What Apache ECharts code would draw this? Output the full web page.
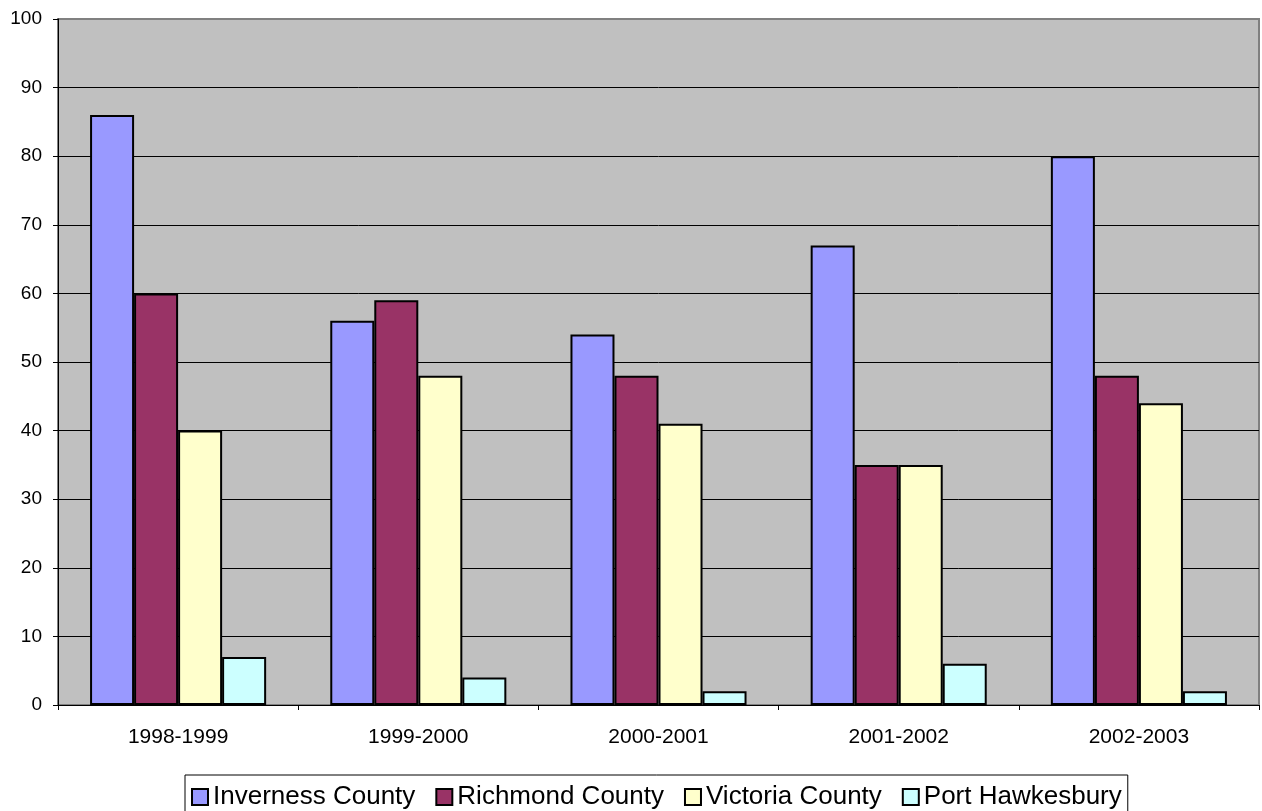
<!DOCTYPE html>
<html>
<head>
<meta charset="utf-8">
<script src="https://cdn.jsdelivr.net/npm/echarts@6/dist/echarts.min.js"></script>
<style>
  html, body { margin: 0; padding: 0; background: #fff; }
  #chart { width: 1262px; height: 811px; }
</style>
</head>
<body>
<div id="chart"></div>
<script>
// School years shown along the x axis
const years = ['1998-1999', '1999-2000', '2000-2001', '2001-2002', '2002-2003'];

// One value per school year for each area
const inverness = [86, 56, 54, 67, 80];
const richmond = [60, 59, 48, 35, 48];
const victoria = [40, 48, 41, 35, 44];
const portHawkesbury = [7, 4, 2, 6, 2];

const seriesNames = ['Inverness County', 'Richmond County', 'Victoria County', 'Port Hawkesbury'];
const seriesColors = ['#9999FF', '#993366', '#FFFFCC', '#CCFFFF'];
const seriesData = [inverness, richmond, victoria, portHawkesbury];

const FONT = '"Liberation Sans", Arial, sans-serif';

// Horizontal gridlines: black, except the top one which sits on the grey frame
const gridLineColors = [];
for (let i = 0; i < 10; i++) gridLineColors.push('#000000');
gridLineColors.push('#808080');

const chart = echarts.init(document.getElementById('chart'));

chart.setOption({
  animation: false,
  backgroundColor: '#ffffff',
  textStyle: { fontFamily: FONT },
  grid: {
    left: 58,
    right: 3,
    top: 19,
    bottom: 106,
    show: true,
    backgroundColor: '#C0C0C0',
    borderColor: '#808080',
    borderWidth: 2
  },
  legend: {
    data: seriesNames,
    top: 775,
    left: 185,
    itemWidth: 16,
    itemHeight: 16,
    itemGap: 20,
    padding: [9, 6, 30, 6],
    borderColor: '#000000',
    borderWidth: 1,
    icon: 'rect',
    itemStyle: { borderColor: '#000000', borderWidth: 2 },
    textStyle: { fontFamily: FONT, fontSize: 26, color: '#000000' }
  },
  xAxis: {
    type: 'category',
    data: years,
    axisLine: { show: true, lineStyle: { color: '#000000', width: 1 } },
    axisTick: { show: true, length: 5, lineStyle: { color: '#000000' } },
    axisLabel: { color: '#000000', fontSize: 21, fontFamily: FONT, margin: 22 },
    splitLine: { show: false }
  },
  yAxis: {
    type: 'value',
    min: 0,
    max: 100,
    interval: 10,
    axisLine: { show: true, lineStyle: { color: '#000000', width: 1 } },
    axisTick: { show: true, length: 5, lineStyle: { color: '#000000' } },
    axisLabel: { color: '#000000', fontSize: 19, fontFamily: FONT, margin: 16 },
    splitLine: { show: true, lineStyle: { color: gridLineColors, width: 1 } }
  },
  series: seriesNames.map((name, i) => ({
    name: name,
    type: 'bar',
    data: seriesData[i],
    barGap: '0%',
    barCategoryGap: '26.7%',
    itemStyle: {
      color: seriesColors[i],
      borderColor: '#000000',
      borderWidth: 2
    }
  }))
});
</script>
</body>
</html>
